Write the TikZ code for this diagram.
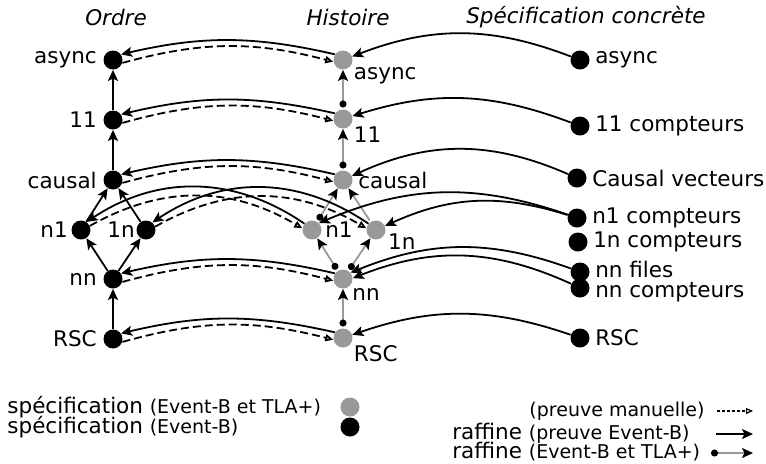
\documentclass[tikz,border=0pt]{standalone}
\usepackage{fontspec}
\setmainfont{DejaVu Sans}
\usetikzlibrary{arrows.meta}
\definecolor{TlaGray}{rgb}{0.6,0.6,0.6}
\newcommand{\pth}[1]{{\fontsize{9.5}{11}\selectfont #1}}

\begin{document}
\begin{tikzpicture}[x=0.5pt,y=-0.5pt,
font=\fontsize{10.75}{12}\selectfont,
eb/.style={circle,fill=black,minimum size=9.5pt,inner sep=0pt},
tla/.style={eb,fill=TlaGray},
hd/.style={font=\fontsize{10.75}{12}\selectfont\itshape},
ref/.style={line width=0.9pt,-{Stealth[length=5.5pt,width=5pt,inset=1.2pt]}},
man/.style={line width=0.9pt,dash pattern=on 4pt off 2pt,-{Triangle[open,length=4pt,width=3.5pt]}},
reftla/.style={line width=0.9pt,draw=TlaGray,shorten <=0.8pt,{Circle[black,length=3.5pt]}-{Stealth[black,length=5.5pt,width=5pt,inset=1.2pt]}},
lft/.style={label={[inner sep=3pt]left:#1}},
rgt/.style={label={[inner xsep=2.5pt,inner ysep=0pt]right:#1}},
brt/.style={label={[anchor=north west,inner sep=1pt]-30:#1}}]

\useasboundingbox (0,0) rectangle (766,463);

% titres des colonnes
\node[hd] (t-ordre) at (116,17) {Ordre};
\node[hd] (t-hist) at (348,17) {Histoire};
\node[hd] (t-conc) at (586,17) {Spécification concrète};

% ordre
\node[eb,lft=async] (o-async) at (113,60) {};
\node[eb,lft=11] (o-11) at (113,120) {};
\node[eb,lft=causal] (o-causal) at (113,180) {};
\node[eb,label={[inner sep=1.5pt]left:n1}] (o-n1) at (81,230) {};
\node[eb,label={[inner sep=0.5pt]left:1n}] (o-1n) at (146,230) {};
\node[eb,lft=nn] (o-nn) at (113,279) {};
\node[eb,lft=RSC] (o-rsc) at (113,339) {};

% histoire
\node[tla,brt=async] (h-async) at (343,60) {};
\node[tla,brt=11] (h-11) at (343,119) {};
\node[tla,label={[inner sep=2.5pt]right:causal}] (h-causal) at (343,180) {};
\node[tla,label={[inner sep=1.5pt]right:n1}] (h-n1) at (312,230) {};
\node[tla,label={[anchor=north west,inner sep=1pt]-10:1n}] (h-1n) at (376,230) {};
\node[tla,label={[anchor=north west,inner sep=1pt]-45:nn}] (h-nn) at (343,279) {};
\node[tla,brt=RSC] (h-rsc) at (343,338) {};

% specifications concretes
\node[eb,rgt=async] (c-async) at (580,60) {};
\node[eb,rgt=11 compteurs] (c-11) at (580,126) {};
\node[eb,rgt=Causal vecteurs] (c-causal) at (577,178) {};
\node[eb,rgt=n1 compteurs] (c-n1) at (577,218) {};
\node[eb,rgt=1n compteurs] (c-1n) at (578,242) {};
\node[eb,label={[inner xsep=2.5pt,inner ysep=0pt,yshift=1.5pt]right:nn files}] (c-nnf) at (580,272) {};
\node[eb,label={[inner xsep=2.5pt,inner ysep=0pt,yshift=-2pt]right:nn compteurs}] (c-nnc) at (580,288) {};
\node[eb,rgt=RSC] (c-rsc) at (580,338) {};

% raffinements verticaux
\foreach \a/\b in {11/async,causal/11,n1/causal,1n/causal,nn/n1,nn/1n,rsc/nn}
  \draw[ref] (o-\a) -- (o-\b);
\foreach \a/\b in {11/async,causal/11,n1/causal,nn/n1,nn/1n,rsc/nn}
  \draw[reftla] (h-\a) -- (h-\b);
\draw[reftla,-{Stealth[black,length=5.5pt,width=5pt,inset=1.2pt]}] (h-1n) -- (h-causal);

% ordre <-> histoire
\foreach \n in {async,11,causal,nn,rsc}{
  \draw[ref] (h-\n.145) to[bend right=13] (o-\n.35);
  \draw[man] (o-\n.-17) to[bend left=15] (h-\n.190);
}
\draw[ref] (h-n1.140) to[bend right=34] (o-n1.55);
\draw[man] (o-n1.25) to[bend left=30] (h-n1.170);
\draw[ref] (h-1n.140) to[bend right=34] (o-1n.50);
\draw[man] (o-1n.20) to[bend left=30] (h-1n.170);

% concret -> histoire
\draw[ref] (c-async) to[bend right=21] (h-async);
\draw[ref] (c-11) to[bend right=19] (h-11);
\draw[ref] (c-causal) to[bend right=24] (h-causal);
\draw[ref] (c-n1) to[bend right=21] (h-n1.45);
\draw[ref] (c-n1) to[bend right=21] (h-1n);
\draw[ref] (c-nnf) to[bend right=21] (h-nn.40);
\draw[ref] (c-nnc) to[bend right=23] (h-nn.5);
\draw[ref] (c-rsc) to[bend right=19] (h-rsc);

% legende
\node[anchor=west,inner sep=0pt] (l-tla) at (7,407) {spécification \pth{(Event-B et TLA+)}};
\node[tla] (l-tla-dot) at (350,407) {};
\node[anchor=west,inner sep=0pt] (l-eb) at (7,427) {spécification \pth{(Event-B)}};
\node[eb] (l-eb-dot) at (350,427) {};

\node[anchor=east,inner sep=0pt] (l-man) at (705,411) {\pth{(preuve manuelle)}};
\coordinate (m1) at (717,411);
\coordinate (m2) at (753,411);
\draw[line width=0.6pt,dash pattern=on 1.5pt off 1pt,-{Triangle[open,length=3.5pt,width=3pt]}] (m1) -- (m2);
\node[anchor=west,inner sep=0pt] (l-ref) at (452,433) {raffine \pth{(preuve Event-B)}};
\coordinate (r1) at (716,434);
\coordinate (r2) at (753,434);
\draw[ref] (r1) -- (r2);
\node[anchor=west,inner sep=0pt] (l-reftla) at (452,452) {raffine \pth{(Event-B et TLA+)}};
\coordinate (f1) at (711,453);
\coordinate (f2) at (753,453);
\draw[reftla,shorten <=0pt] (f1) -- (f2);

\end{tikzpicture}
\end{document}
